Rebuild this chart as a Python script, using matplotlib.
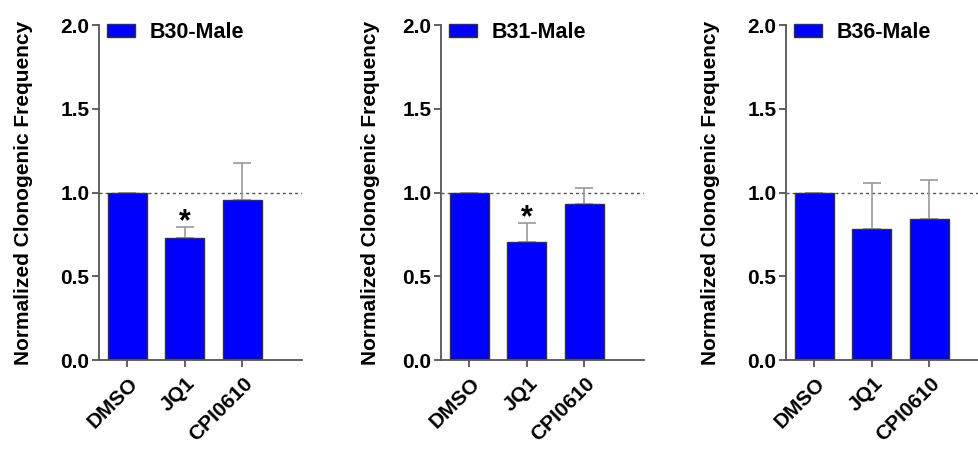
import matplotlib
matplotlib.use("Agg")
from matplotlib import pyplot as plt
from matplotlib.patches import Patch
from matplotlib.transforms import ScaledTranslation

plt.rcParams['font.family'] = ['Liberation Sans', 'DejaVu Sans']
plt.rcParams['font.weight'] = 'bold'

treatments = ['DMSO', 'JQ1', 'CPI0610']
panel_names = ['B30-Male', 'B31-Male', 'B36-Male']
means = [
    [1.0, 0.728, 0.955],
    [1.0, 0.702, 0.931],
    [1.0, 0.784, 0.844],
]
errors = [
    [0.0, 0.064, 0.219],
    [0.0, 0.114, 0.098],
    [0.0, 0.271, 0.229],
]
stars = [
    ['', '*', ''],
    ['', '*', ''],
    ['', '', ''],
]

lefts = [0.1011, 0.4505, 0.8029]
label_x = [-0.325, -0.30, -0.325]
axis_gray = '#555555'
fs = 15

fig = plt.figure(figsize=(9.79, 4.5), dpi=100)
# nudge for the rotated category labels (in inches)
label_shift = ScaledTranslation(1 / 100, -14 / 100, fig.dpi_scale_trans)

for i in range(len(panel_names)):
    ax = fig.add_axes([lefts[i], 0.2, 0.2074, 0.7444])
    x = list(range(len(treatments)))
    ax.axhline(1.0, color='#555555', linestyle=(0, (2.2, 2.2)), linewidth=1.0, zorder=1)
    ax.bar(x, means[i], width=0.68, color='#0000ff', edgecolor='#333333',
           linewidth=1.0, zorder=2)
    ax.errorbar(x, means[i], yerr=[[0] * len(x), errors[i]], fmt='none',
                ecolor='#999999', elinewidth=1.2, capsize=6.5, capthick=1.2, zorder=1.5)
    for j in x:
        if stars[i][j]:
            ax.text(j, means[i][j] + errors[i][j] - 0.02, stars[i][j],
                    ha='center', va='baseline', fontsize=22, fontweight='bold')
    ax.set_xlim(-0.49, 3.04)
    ax.set_ylim(0, 2.0)
    ax.set_yticks([0.0, 0.5, 1.0, 1.5, 2.0])
    ax.set_yticklabels(['0.0', '0.5', '1.0', '1.5', '2.0'], fontsize=fs, fontweight='bold')
    ax.set_xticks(x)
    ax.set_xticklabels([''] * len(x))
    for j in x:
        ax.text(j, 0, treatments[j], transform=ax.get_xaxis_transform() + label_shift,
                rotation=45, ha='right', va='top', rotation_mode='anchor',
                fontsize=fs, fontweight='bold')
    ax.set_ylabel('Normalized Clonogenic Frequency', fontsize=fs, fontweight='bold')
    ax.yaxis.set_label_coords(label_x[i], 0.5)
    ax.spines['top'].set_visible(False)
    ax.spines['right'].set_visible(False)
    for s in ['left', 'bottom']:
        ax.spines[s].set_color(axis_gray)
        ax.spines[s].set_linewidth(1.3)
    ax.tick_params(axis='both', colors=axis_gray, length=5, width=1.3, labelcolor='black')
    ax.tick_params(axis='y', pad=2)
    ax.legend(handles=[Patch(facecolor='#0000ff', edgecolor='#333333', label=panel_names[i])],
              loc='upper left', bbox_to_anchor=(0.039, 1.01), frameon=False,
              prop={'size': fs + 0.5, 'weight': 'bold'}, handlelength=1.3, handleheight=0.56,
              handletextpad=0.7, borderaxespad=0, borderpad=0)

fig.savefig('out.png', dpi=100)
